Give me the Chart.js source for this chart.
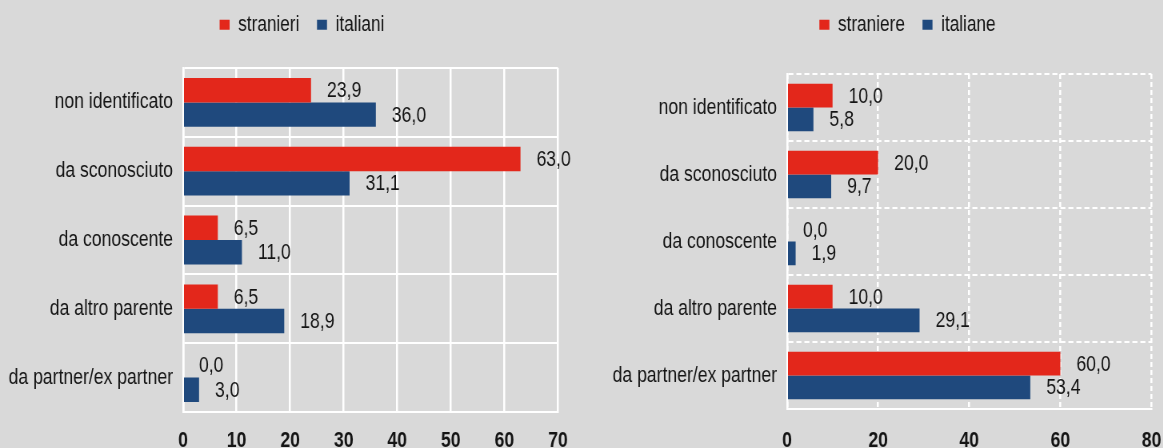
<!DOCTYPE html>
<html>
<head>
<meta charset="utf-8">
<script src="https://cdn.jsdelivr.net/npm/chart.js@4/dist/chart.umd.min.js"></script>
<style>
  html, body { margin: 0; padding: 0; background: #d9d9d9; overflow: hidden; }
  #wrap { position: relative; width: 1163px; height: 448px; overflow: hidden; }
  /* il font "narrow" non c'e': comprimo la tela in orizzontale */
  .narrow { position: absolute; top: 0; transform: scaleX(0.8); transform-origin: 0 0; }
  #p1 { left: 0; }
  #p2 { left: 580px; }
</style>
</head>
<body>
<div id="wrap">
  <div class="narrow" id="p1"><canvas id="c1" width="725" height="448"></canvas></div>
  <div class="narrow" id="p2"><canvas id="c2" width="729" height="448"></canvas></div>
</div>
<script>
// dati
const categories = ["non identificato", "da sconosciuto", "da conoscente", "da altro parente", "da partner/ex partner"];

const stranieri = [23.9, 63.0, 6.5, 6.5, 0.0];
const italiani = [36.0, 31.1, 11.0, 18.9, 3.0];

const straniere = [10.0, 20.0, 0.0, 10.0, 60.0];
const italiane = [5.8, 9.7, 1.9, 29.1, 53.4];

const SX = 0.8;
const FONT = "'Liberation Sans', Arial, sans-serif";
const TEXT = "#141414";
const RED = "#e3271b";
const BLUE = "#1f497d";

// etichette valori con virgola
const valueLabels = {
    id: "valueLabels",
    afterDatasetsDraw(chart) {
        const ctx = chart.ctx;
        ctx.save();
        ctx.font = "22px " + FONT;
        ctx.fillStyle = TEXT;
        ctx.textAlign = "left";
        ctx.textBaseline = "middle";
        chart.data.datasets.forEach((ds, i) => {
            chart.getDatasetMeta(i).data.forEach((bar, j) => {
                ctx.fillText(ds.data[j].toFixed(1).replace(".", ","), bar.x + 20, bar.y + 1);
            });
        });
        ctx.restore();
    }
};

// legenda: altezza fissa e posizione come nell'originale
function legendBox(h, centerX, dy) {
    return {
        id: "legendBox",
        beforeLayout(chart) {
            const lg = chart.legend;
            if (lg && !lg.__fixed) {
                const fit = lg.fit;
                lg.fit = function () { fit.call(this); this.height = h; };
                lg.__fixed = true;
            }
        },
        afterLayout(chart) {
            const lg = chart.legend;
            const dx = centerX - (lg.left + lg.right) / 2;
            lg.left += dx; lg.right += dx;
            lg.top += dy; lg.bottom += dy;
        }
    };
}

function makeChart(id, labelA, dataA, labelB, dataB, opt) {
    return new Chart(document.getElementById(id), {
        type: "bar",
        data: {
            labels: categories,
            datasets: [
                { label: labelA, data: dataA, backgroundColor: RED, categoryPercentage: 0.71, barPercentage: 1.0 },
                { label: labelB, data: dataB, backgroundColor: BLUE, categoryPercentage: 0.71, barPercentage: 1.0 }
            ]
        },
        options: {
            indexAxis: "y",
            responsive: false,
            animation: false,
            layout: { padding: { left: 0, right: opt.padRight, top: 0, bottom: 0 } },
            plugins: {
                legend: {
                    position: "top",
                    labels: {
                        boxWidth: 10 / SX,
                        boxHeight: 10,
                        padding: 22,
                        color: TEXT,
                        font: { family: FONT, size: 21.5 }
                    }
                },
                tooltip: { enabled: false }
            },
            scales: {
                x: {
                    min: 0,
                    max: opt.max,
                    ticks: {
                        stepSize: opt.step,
                        padding: opt.xPad,
                        color: TEXT,
                        font: { family: FONT, size: 22, weight: "bold" }
                    },
                    grid: { color: "#ffffff", lineWidth: 2 / SX, drawTicks: false },
                    border: { display: true, color: "#ffffff", width: 2, dash: opt.dashed ? [5, 3] : [] },
                    afterFit: s => {
                        s.height = opt.xHeight;
                        s.paddingLeft = 0;
                        s.paddingRight = 0;
                    }
                },
                y: {
                    ticks: {
                        padding: 12.5,
                        color: TEXT,
                        font: { family: FONT, size: 22 }
                    },
                    grid: { color: "#ffffff", lineWidth: 2, drawTicks: false },
                    border: { display: true, color: "#ffffff", width: 2 / SX, dash: opt.dashed ? [6.25, 3.75] : [] },
                    afterFit: s => { s.width = opt.yWidth; }
                }
            }
        },
        plugins: [valueLabels, legendBox(opt.legendH, opt.legendX, -8)]
    });
}

makeChart("c1", "stranieri", stranieri, "italiani", italiani, {
    max: 70, step: 10, dashed: false,
    yWidth: 183 / SX, padRight: 725 - 558 / SX,
    legendH: 68, legendX: 302 / SX,
    xHeight: 36, xPad: 16
});

makeChart("c2", "straniere", straniere, "italiane", italiane, {
    max: 80, step: 20, dashed: true,
    yWidth: 207 / SX, padRight: 729 - 571.5 / SX,
    legendH: 74, legendX: 327.5 / SX,
    xHeight: 39, xPad: 19
});
</script>
</body>
</html>
